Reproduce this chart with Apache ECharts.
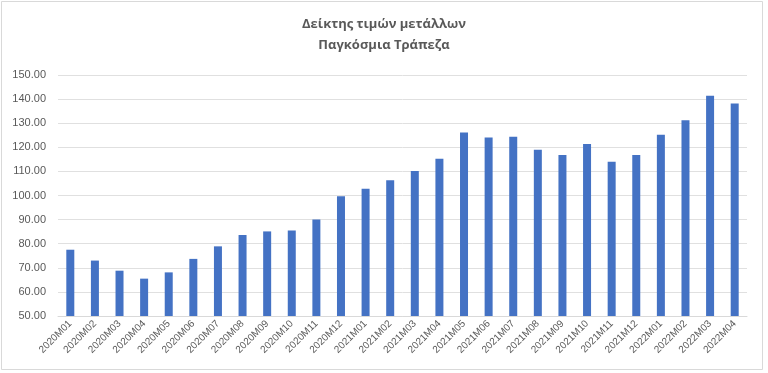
<!DOCTYPE html>
<html>
<head>
<meta charset="utf-8">
<script src="https://cdn.jsdelivr.net/npm/echarts@6/dist/echarts.min.js"></script>
<style>
html,body{margin:0;padding:0;background:#fff;}
#chart{width:768px;height:373px;}
</style>
</head>
<body>
<div id="chart"></div>
<script>
const categories = ["2020M01","2020M02","2020M03","2020M04","2020M05","2020M06","2020M07","2020M08","2020M09","2020M10","2020M11","2020M12",
  "2021M01","2021M02","2021M03","2021M04","2021M05","2021M06","2021M07","2021M08","2021M09","2021M10","2021M11","2021M12",
  "2022M01","2022M02","2022M03","2022M04"];
const values = [77.5,73.0,68.8,65.5,68.1,73.7,78.9,83.6,85.1,85.5,90.0,99.7,
  102.8,106.3,110.2,115.3,126.1,124.1,124.4,119.0,116.8,121.4,114.0,116.8,
  125.2,131.2,141.4,138.2];
const titleLines = ["Δείκτης τιμών μετάλλων","Παγκόσμια Τράπεζα"];

const chart = echarts.init(document.getElementById('chart'), null, {renderer:'canvas'});
chart.setOption({
  animation:false,
  backgroundColor:'#ffffff',
  title:{
    text: titleLines.join('\n'),
    left:'center',
    top:9,
    textStyle:{fontFamily:'Open Sans', fontSize:13, fontWeight:'bold', color:'#595959', lineHeight:21}
  },
  graphic:[{
    type:'rect', shape:{x:1.5,y:1.5,width:761,height:368},
    style:{fill:'none', stroke:'#d9d9d9', lineWidth:1}, silent:true
  }],
  grid:{left:58, right:21, top:75, bottom:57, containLabel:false},
  xAxis:{
    type:'category', data:categories,
    axisLine:{show:true, lineStyle:{color:'#d9d9d9'}},
    axisTick:{show:false},
    axisLabel:{rotate:45, fontFamily:'Liberation Sans', fontSize:10, color:'#595959', interval:0, margin:6}
  },
  yAxis:{
    type:'value', min:50, max:150, interval:10,
    axisLine:{show:false}, axisTick:{show:false},
    axisLabel:{formatter:v=>v.toFixed(2), fontFamily:'Liberation Sans', fontSize:11, color:'#595959', margin:12},
    splitLine:{lineStyle:{color:'#e0e0e0'}}
  },
  series:[{
    type:'bar', data:values, barWidth:8,
    itemStyle:{color:'#4472c4'}
  }]
});
</script>
</body>
</html>
